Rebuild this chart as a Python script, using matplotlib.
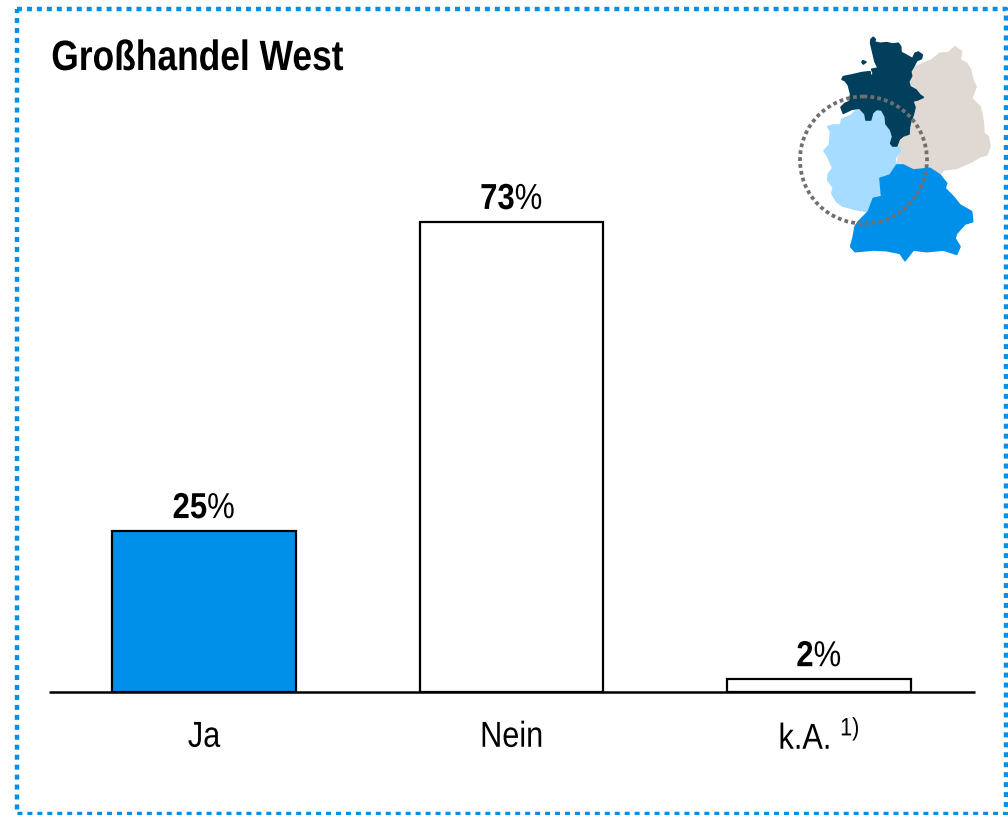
import numpy as np
import matplotlib
matplotlib.use('Agg')
import matplotlib.pyplot as plt
from matplotlib.patches import Polygon, Circle
from matplotlib.patheffects import AbstractPathEffect
from matplotlib.transforms import Affine2D

plt.rcParams['font.family'] = ['Liberation Sans', 'DejaVu Sans']
plt.rcParams['mathtext.fontset'] = 'custom'
plt.rcParams['mathtext.rm'] = 'Liberation Sans'
plt.rcParams['mathtext.default'] = 'regular'

categories = ['Ja', 'Nein', 'k.A. $^{1)}$']
values = [25, 73, 2]
# digits are bold, the percent sign is not
value_labels = [r'25$\mathrm{\%}$', r'73$\mathrm{\%}$', r'2$\mathrm{\%}$']
bar_colors = ['#0090ea', '#ffffff', '#ffffff']
title = 'Großhandel West'

# map outlines (crop coordinates)
nord = [(272,70),(273,58),(280,52),(286,58),(283,66),(300,70),(320,68),(338,72),(355,70),(362,80),
        (363,97),(378,105),(398,116),(405,100),(415,96),(427,105),(424,116),(410,122),(402,138),
        (392,155),(395,168),(386,185),(390,200),(408,210),(420,225),(430,232),(412,240),(398,243),
        (405,262),(400,283),(392,305),(388,322),(387,342),(370,348),(358,358),(350,378),(338,378),
        (332,370),(338,350),(332,330),(318,312),(316,290),(305,270),(290,268),(278,278),(272,300),
        (258,300),(255,282),(238,264),(215,268),(190,280),(183,262),(195,250),(208,245),(212,222),
        (205,195),(195,182),(186,178),(190,170),(215,165),(245,158),(270,155),(272,172),(280,160),
        (275,148),(290,145),(298,152),(285,125),(278,95)]
west = [(143,320),(152,335),(150,355),(148,375),(132,392),(142,408),(150,425),(158,445),(145,462),
        (143,480),(160,503),(155,520),(170,545),(188,558),(225,568),(262,575),(270,555),(280,535),
        (305,530),(300,500),(302,475),(330,465),(348,440),(345,415),(360,395),(362,383),(335,375),
        (335,335),(315,300),(310,270),(290,268),(275,280),(265,300),(255,280),(235,262),(215,285),
        (185,298),(182,315),(160,315)]
ost = [(395,150),(412,138),(430,130),(455,120),(480,100),(505,98),(525,80),(545,95),(540,120),
       (560,130),(572,150),(578,180),(588,200),(575,235),(600,260),(606,285),(610,310),(612,340),
       (625,350),(630,380),(620,405),(600,410),(575,425),(530,445),(490,450),(480,465),(450,445),
       (400,450),(370,435),(350,435),(362,385),(350,375),(385,345),(400,240),(430,232),(385,200)]
sued = [(370,435),(400,450),(450,445),(480,465),(500,490),(495,505),(520,530),(540,555),(575,575),
        (578,605),(555,612),(530,640),(525,655),(540,680),(530,703),(490,690),(440,695),(400,690),
        (375,722),(360,700),(320,692),(280,690),(225,695),(212,680),(220,650),(225,620),(235,605),
        (265,575),(280,535),(305,530),(300,475),(330,465),(350,435)]
insel = [(248,122),(258,126),(250,132),(246,127)]

W, H = 1008, 815


class Squeeze(AbstractPathEffect):
    # narrows a text horizontally about its left edge or centre
    def __init__(self, sx, anchor=0.5):
        super().__init__()
        self.sx = sx
        self.anchor = anchor

    def draw_path(self, renderer, gc, tpath, affine, rgbFace=None):
        box = tpath.transformed(affine).get_extents()
        cx = box.x0 + self.anchor * box.width
        t = affine + Affine2D().translate(-cx, 0).scale(self.sx, 1).translate(cx, 0)
        renderer.draw_path(gc, tpath, t, rgbFace)


fig = plt.figure(figsize=(W / 100, H / 100), dpi=100)

# overlay in pixels for frame, title and map
bg = fig.add_axes([0, 0, 1, 1])
bg.set_xlim(0, W)
bg.set_ylim(H, 0)
bg.axis('off')

bg.plot([17, 1006, 1006, 17, 17], [9, 9, 814, 814, 9], color='#0090ea', lw=3.2,
        dashes=(1.12, 1.12), dash_capstyle='butt')
bg.text(51, 59, title, fontsize=30.5, fontweight='bold', va='center', ha='left',
        path_effects=[Squeeze(0.835, 0)])


def crop(points):
    return [(780 + x / 3, 20 + y / 3) for x, y in points]


for pts, col in [(ost, '#e0d8d2'), (west, '#a6dcff'), (nord, '#023f5c'), (insel, '#023f5c'), (sued, '#0090ea')]:
    bg.add_patch(Polygon(crop(pts), closed=True, facecolor=col, edgecolor=col, lw=1.2, joinstyle='round'))
bg.add_patch(Circle((863.5, 160), 63.5, fill=False, edgecolor='#6f6f6f', lw=2.7,
                    linestyle=(0, (1.0, 0.85))))

# bars
x0, x1 = 49, 975
base = 692
unit = 6.44
ymax = 80
ax = fig.add_axes([x0 / W, (H - base) / H, (x1 - x0) / W, ymax * unit / H])
ax.patch.set_alpha(0)
pos = np.arange(len(values))
ax.bar(pos, values, width=0.597, color=bar_colors, edgecolor='black', linewidth=1.6)
ax.set_xlim(-0.504, 2.507)
ax.set_ylim(0, ymax)
for s in ['top', 'left', 'right']:
    ax.spines[s].set_visible(False)
ax.spines['bottom'].set_linewidth(1.8)
ax.spines['bottom'].set_capstyle('butt')
ax.set_yticks([])
ax.set_xticks(pos)
ax.set_xticklabels(categories, fontsize=26)
for lab in ax.get_xticklabels():
    lab.set_path_effects([Squeeze(0.85)])
ax.tick_params(axis='x', length=0, pad=20)
for p, v, lab in zip(pos, values, value_labels):
    ax.annotate(lab, (p, v), xytext=(0, 3.5), textcoords='offset points', ha='center', va='bottom',
                fontsize=26, fontweight='bold', path_effects=[Squeeze(0.86)])

fig.savefig('out.png', dpi=100)
plt.close(fig)
